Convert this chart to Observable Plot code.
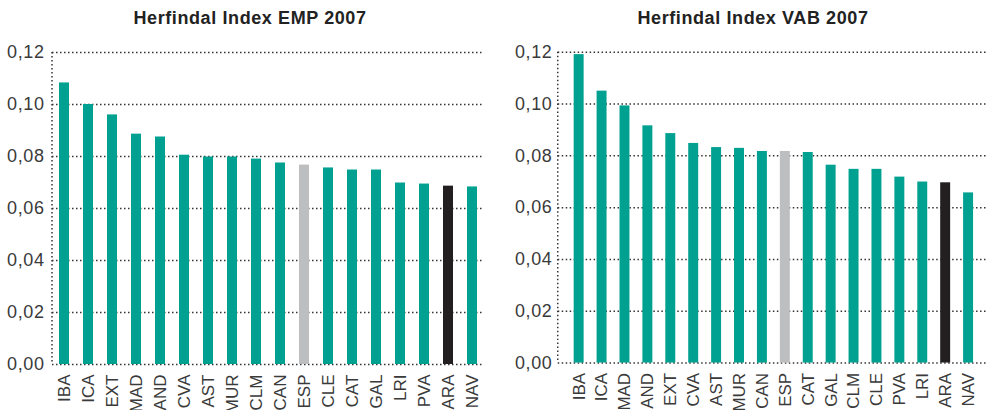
<!DOCTYPE html>
<html>
<head>
<meta charset="utf-8">
<script src="https://cdn.jsdelivr.net/npm/d3@7"></script>
<script src="https://cdn.jsdelivr.net/npm/@observablehq/plot@0.6"></script>
<style>
  html, body { margin: 0; padding: 0; background: #fff; overflow: hidden; }
  #wrap { position: relative; width: 988px; height: 410px; overflow: hidden; background: #fff; }
  .title { position: absolute; top: 8px; z-index: 5; font-family: "Liberation Sans", Arial, Helvetica, sans-serif;
           font-weight: bold; font-size: 18px; letter-spacing: 0.6px; color: #222; text-align: center;
           width: 400px; line-height: 20px; white-space: nowrap; }
  .panel { position: absolute; top: 0; z-index: 1; }
  .panel svg { background: transparent !important; }
</style>
</head>
<body>
<div id="wrap">
  <div class="panel" id="p1" style="left:0px"></div>
  <div class="panel" id="p2" style="left:494px"></div>
  <div class="title" id="t1" style="left:50px"></div>
  <div class="title" id="t2" style="left:553px"></div>
</div>
<script>
const titles = ["Herfindal Index EMP 2007", "Herfindal Index VAB 2007"];

const categoriesEMP = ["IBA","ICA","EXT","MAD","AND","CVA","AST","MUR","CLM","CAN","ESP","CLE","CAT","GAL","LRI","PVA","ARA","NAV"];
const valuesEMP = [0.1083, 0.1000, 0.0960, 0.0886, 0.0875, 0.0805, 0.0798, 0.0798, 0.0790, 0.0775, 0.0767, 0.0756, 0.0748, 0.0748, 0.0698, 0.0694, 0.0686, 0.0683];

const categoriesVAB = ["IBA","ICA","MAD","AND","EXT","CVA","AST","MUR","CAN","ESP","CAT","GAL","CLM","CLE","PVA","LRI","ARA","NAV"];
const valuesVAB = [0.1191, 0.1050, 0.0993, 0.0916, 0.0886, 0.0848, 0.0832, 0.0829, 0.0817, 0.0817, 0.0813, 0.0764, 0.0748, 0.0748, 0.0718, 0.0699, 0.0696, 0.0657];

const yTicks = [0, 0.02, 0.04, 0.06, 0.08, 0.10, 0.12];
const yTickLabels = ["0,00", "0,02", "0,04", "0,06", "0,08", "0,10", "0,12"];

const groupKeys = ["region", "ESP", "ARA"];
const groupColors = ["#00A191", "#BCBEC0", "#231F20"];

function makeChart(categories, values, opts) {
  const data = categories.map((c, i) => ({cat: c, value: values[i], group: c === "ESP" ? "ESP" : c === "ARA" ? "ARA" : "region"}));
  const leftAxisLine = (index, scales, values, dims) => {
    const line = d3.create("svg:line")
      .attr("x1", dims.marginLeft).attr("x2", dims.marginLeft)
      .attr("y1", scales.y(yTicks[yTicks.length - 1])).attr("y2", scales.y(0))
      .attr("stroke", "#333").attr("stroke-width", 1.5).attr("stroke-dasharray", "1.5,2.5");
    return line.node();
  };
  const svg = Plot.plot({
    width: opts.width,
    height: 410,
    marginTop: 52,
    marginBottom: 46,
    marginLeft: opts.marginLeft,
    marginRight: opts.marginRight,
    style: {fontFamily: '"Liberation Sans", Arial, Helvetica, sans-serif', fontSize: "16px", overflow: "visible"},
    x: {domain: categories, paddingInner: 0.58, paddingOuter: opts.paddingOuter, label: null},
    y: {domain: [0, 0.12], label: null},
    color: {domain: groupKeys, range: groupColors},
    marks: [
      Plot.ruleY(yTicks, {stroke: "#333", strokeWidth: 1.5, strokeDasharray: "1.5,2.5"}),
      leftAxisLine,
      Plot.barY(data, {x: "cat", y: "value", fill: "group"}),
      Plot.axisY({
        ticks: yTicks,
        tickFormat: d => yTickLabels[yTicks.findIndex(t => Math.abs(t - d) < 1e-9)],
        tickSize: 0,
        tickPadding: opts.yPad,
        color: "#3a3a3a"
      }),
      Plot.axisX({
        tickSize: 0,
        tickPadding: 10,
        tickRotate: -90,
        color: "#3a3a3a",
        label: null
      })
    ]
  });
  d3.select(svg).selectAll('g[aria-label="y-axis tick label"] text')
    .style("font-size", "18px").style("letter-spacing", "0.6px");
  d3.select(svg).selectAll('g[aria-label="x-axis tick label"] text')
    .style("font-size", "17px");
  return svg;
}

document.getElementById("t1").textContent = titles[0];
document.getElementById("t2").textContent = titles[1];
document.getElementById("p1").appendChild(makeChart(categoriesEMP, valuesEMP, {width: 494, marginLeft: 52, marginRight: 10, paddingOuter: 0.29, yPad: 8}));
document.getElementById("p2").appendChild(makeChart(categoriesVAB, valuesVAB, {width: 496, marginLeft: 64, marginRight: 0, paddingOuter: 0.33, yPad: 6}));
</script>
</body>
</html>
